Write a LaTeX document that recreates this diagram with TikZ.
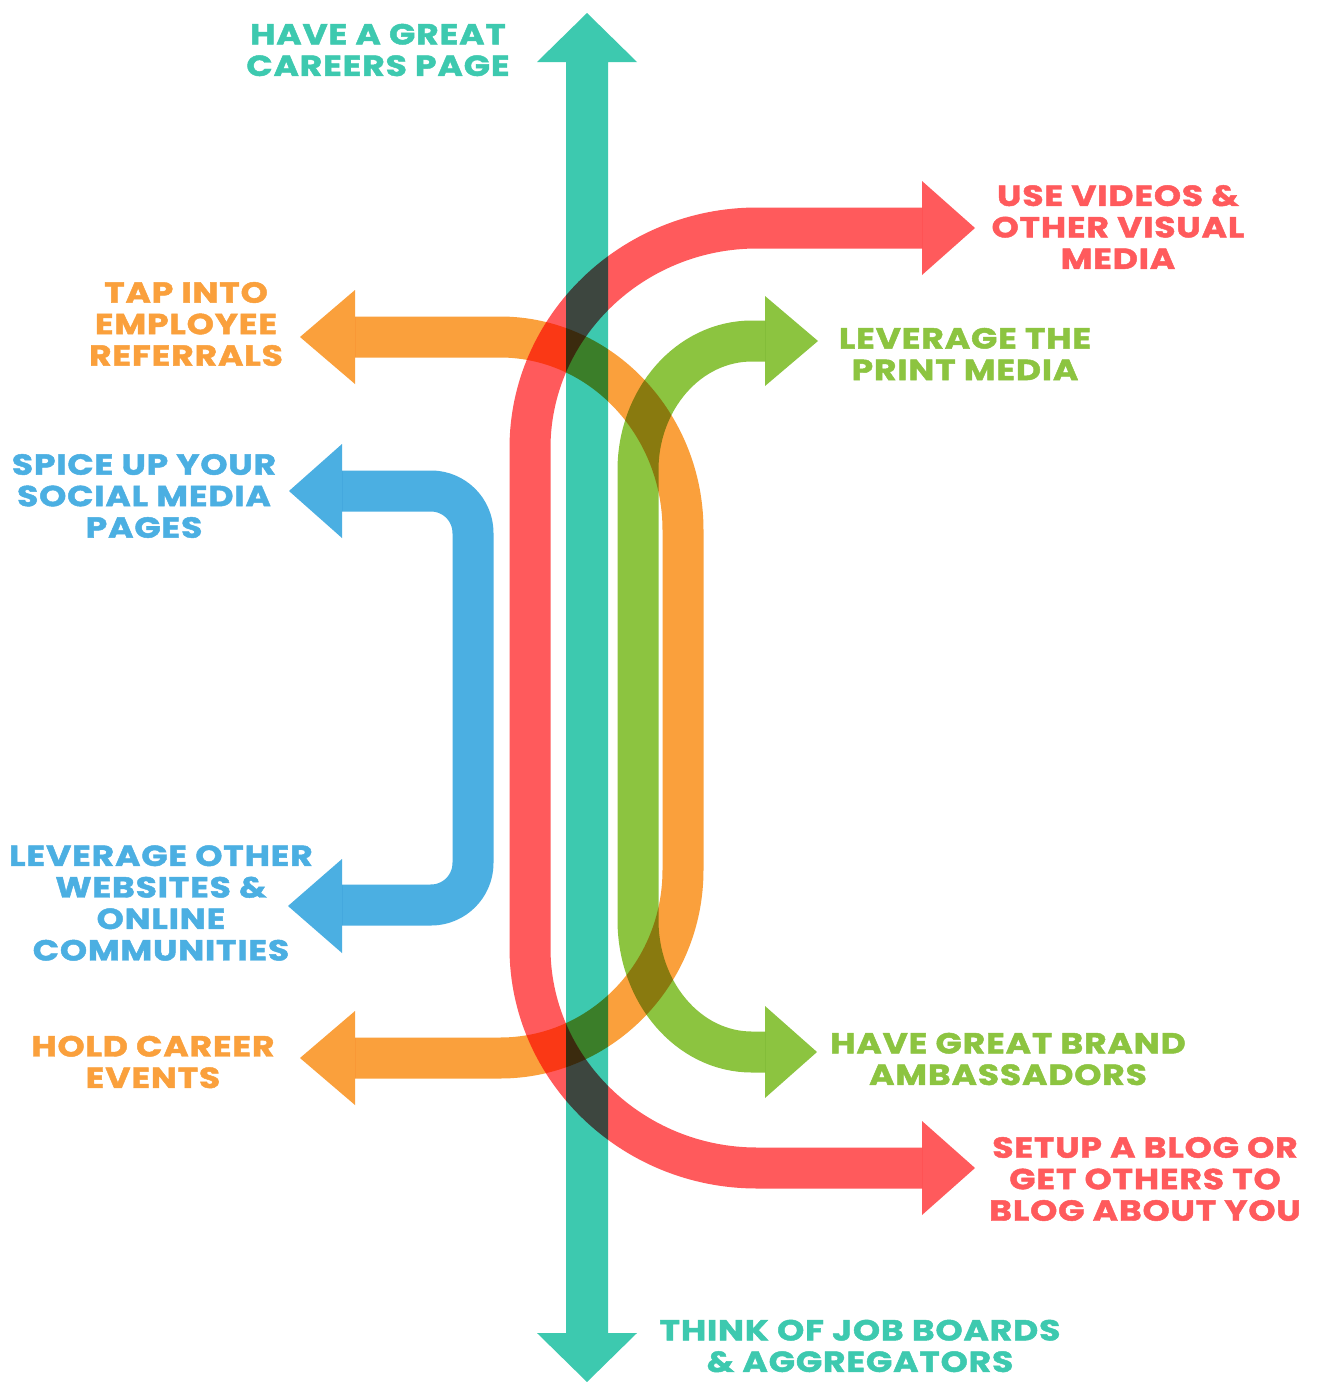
\documentclass[tikz,border=0pt]{standalone}
\usepackage{fontspec}
\setmainfont{Poppins}[BoldFeatures={FakeBold=1.6}, FakeStretch=1.19, LetterSpace=3]
\definecolor{cteal}{RGB}{61,201,175}
\definecolor{cred}{RGB}{255,90,92}
\definecolor{corange}{RGB}{250,160,60}
\definecolor{cgreen}{RGB}{140,196,64}
\definecolor{cblue}{RGB}{75,175,226}
\tikzset{
  shaft/.style={line width=41pt, line cap=butt, line join=round},
  lbl/.style={align=center, font=\fontsize{29}{31.5}\selectfont\bfseries, inner sep=0pt},
}
\begin{document}
\begin{tikzpicture}[x=1pt,y=-1pt]
\useasboundingbox (0,0) rectangle (1318,1382);
\fill[white] (0,0) rectangle (1318,1382);
\begin{scope}[blend mode=multiply]
% teal double arrow
\fill[cteal] (587,13) -- (637,62) -- (608,62) -- (608,1333) -- (637,1333) -- (587,1382)
  -- (537,1333) -- (566,1333) -- (566,62) -- (537,62) -- cycle;
% red
\draw[shaft, cred] (922,228) -- (757,228) .. controls (632,228) and (530,327) .. (530,448)
  -- (530,948) .. controls (530,1069) and (632,1168) .. (757,1168) -- (922,1168);
\fill[cred] (922,181) -- (975,228) -- (922,275) -- cycle;
\fill[cred] (922,1121) -- (975,1168) -- (922,1215) -- cycle;
% orange
\draw[shaft, corange] (355,337) -- (500,337) .. controls (601,337) and (683,424) .. (683,530)
  -- (683,870) .. controls (683,974) and (601,1058) .. (500,1058) -- (355,1058);
\fill[corange] (355,290) -- (300,337) -- (355,384) -- cycle;
\fill[corange] (355,1011) -- (300,1058) -- (355,1105) -- cycle;
% green
\draw[shaft, cgreen] (765,341) -- (752,341) .. controls (688,341) and (638,400) .. (638,470)
  -- (638,920) .. controls (638,992) and (688,1052) .. (752,1052) -- (765,1052);
\fill[cgreen] (765,296) -- (818,341) -- (765,386) -- cycle;
\fill[cgreen] (765,1006) -- (817,1052) -- (765,1098) -- cycle;
% blue
\draw[shaft, cblue, rounded corners=42pt] (342,491) -- (473,491) -- (473,905) -- (342,905);
\fill[cblue] (342,444) -- (289,491) -- (342,538) -- cycle;
\fill[cblue] (342,859) -- (288,906) -- (342,953) -- cycle;
\end{scope}
% labels
\node[lbl, text=cteal] (careers) at (378,50) {HAVE A GREAT\\CAREERS PAGE};
\node[lbl, text=cred] (videos) at (1118,227) {USE VIDEOS \&\\OTHER VISUAL\\MEDIA};
\node[lbl, text=corange] (referrals) at (186,324) {TAP INTO\\EMPLOYEE\\REFERRALS};
\node[lbl, text=cgreen] (print) at (965,354) {LEVERAGE THE\\PRINT MEDIA};
\node[lbl, text=cblue] (social) at (144,496) {SPICE UP YOUR\\SOCIAL MEDIA\\PAGES};
\node[lbl, text=cblue] (websites) at (161,903) {LEVERAGE OTHER\\WEBSITES \&\\ONLINE\\COMMUNITIES};
\node[lbl, text=corange] (events) at (153,1062) {HOLD CAREER\\EVENTS};
\node[lbl, text=cgreen] (brand) at (1008,1059) {HAVE GREAT BRAND\\AMBASSADORS};
\node[lbl, text=cred] (blog) at (1145,1179) {SETUP A BLOG OR\\GET OTHERS TO\\BLOG ABOUT YOU};
\node[lbl, text=cteal] (jobs) at (860,1346) {THINK OF JOB BOARDS\\\& AGGREGATORS};
\end{tikzpicture}
\end{document}
